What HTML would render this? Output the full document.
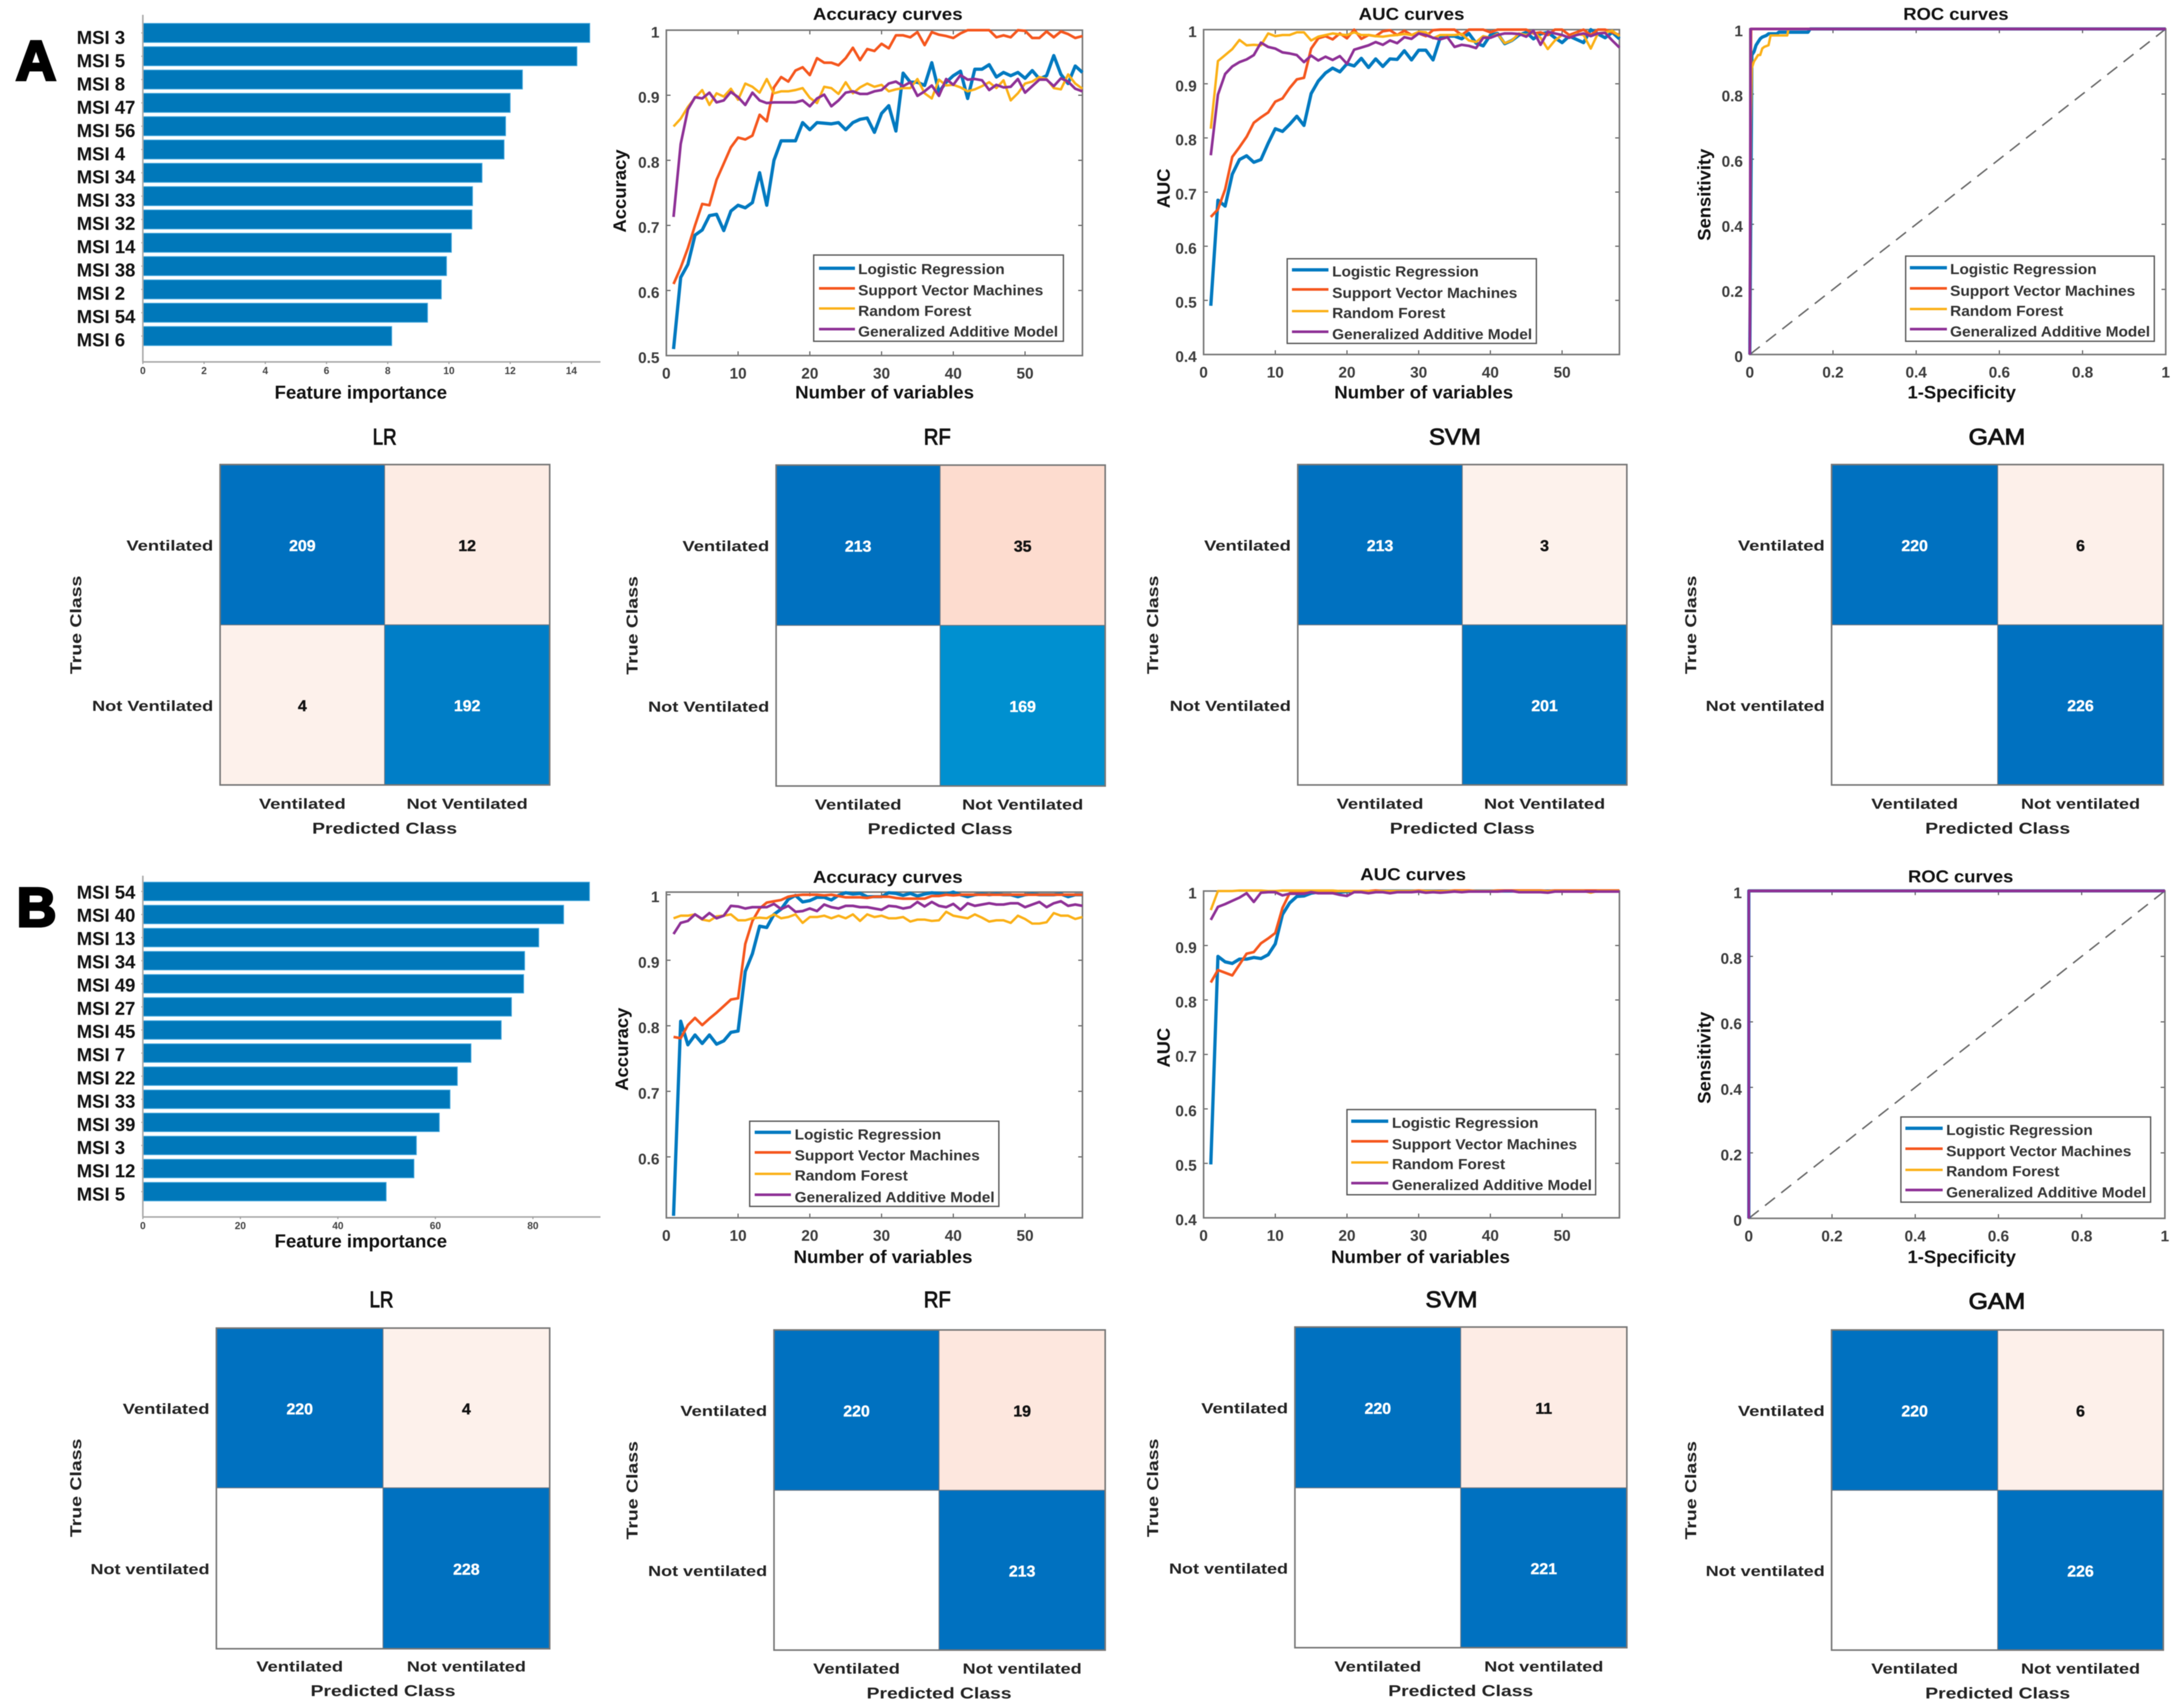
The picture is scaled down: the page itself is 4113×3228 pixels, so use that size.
<!DOCTYPE html>
<html lang="en">
<head>
<meta charset="utf-8">
<title>Ventilation model performance figure</title>
<style>
html,body{margin:0;padding:0;background:#fff;width:4113px;height:3228px;overflow:hidden}
svg{display:block;filter:blur(0.9px)}
text{font-family:"Liberation Sans",sans-serif}
</style>
</head>
<body>
<svg id="figure" xmlns="http://www.w3.org/2000/svg" width="4113" height="3228" viewBox="0 0 4113 3228">
<rect width="4113" height="3228" fill="#fff"/>
</svg>
<script>
// ---------- Feature importance ----------
const barALabels = ['MSI 3','MSI 5','MSI 8','MSI 47','MSI 56','MSI 4','MSI 34','MSI 33','MSI 32','MSI 14','MSI 38','MSI 2','MSI 54','MSI 6'];
const barAValues = [14.6,14.18,12.4,12,11.85,11.8,11.08,10.77,10.75,10.08,9.92,9.75,9.3,8.13];
const barATicks = [0,2,4,6,8,10,12,14];
const barBLabels = ['MSI 54','MSI 40','MSI 13','MSI 34','MSI 49','MSI 27','MSI 45','MSI 7','MSI 22','MSI 33','MSI 39','MSI 3','MSI 12','MSI 5'];
const barBValues = [91.6,86.3,81.2,78.3,78.1,75.6,73.5,67.3,64.5,63,60.8,56.1,55.6,49.9];
const barBTicks = [0,20,40,60,80];

// ---------- Curves (one value per number of variables, 1..58) ----------
const accALr = [.51,.62,.64,.685,.693,.715,.717,.692,.722,.731,.727,.735,.781,.731,.80,.83,.83,.83,.858,.847,.858,.857,.856,.858,.847,.858,.863,.865,.843,.872,.884,.845,.934,.92,.92,.915,.95,.905,.92,.93,.937,.895,.94,.94,.947,.928,.935,.93,.935,.926,.938,.925,.93,.961,.932,.918,.945,.935];
const accASvm = [.61,.635,.665,.70,.733,.731,.77,.795,.82,.835,.832,.838,.87,.86,.912,.928,.921,.938,.943,.931,.957,.95,.95,.946,.957,.973,.954,.971,.968,.979,.972,.992,.992,.989,.997,.977,.997,.993,.991,.988,.995,1,1,1,1,.989,.992,.989,1,.999,.988,.988,.998,.989,.998,.994,.988,.991];
const accARf = [.852,.864,.882,.896,.908,.885,.903,.898,.91,.893,.918,.913,.904,.925,.903,.906,.906,.908,.911,.896,.888,.913,.911,.902,.92,.903,.912,.918,.913,.916,.906,.909,.911,.911,.925,.903,.895,.924,.915,.916,.912,.906,.909,.914,.92,.911,.923,.892,.903,.918,.921,.928,.925,.911,.909,.932,.918,.91];
const accAGam = [.713,.825,.878,.897,.895,.904,.889,.892,.905,.897,.885,.904,.892,.888,.889,.889,.889,.889,.892,.883,.895,.901,.883,.892,.904,.906,.902,.902,.906,.908,.918,.921,.914,.92,.899,.906,.915,.899,.925,.916,.931,.924,.925,.923,.908,.916,.912,.913,.925,.904,.914,.924,.924,.914,.926,.921,.91,.906];

const aucALr = [.49,.685,.674,.733,.76,.767,.755,.76,.79,.817,.812,.825,.84,.823,.882,.905,.92,.929,.922,.937,.933,.947,.93,.946,.932,.946,.945,.961,.944,.962,.962,.944,.985,.988,.988,.983,.993,.975,.97,.99,.993,.974,.98,.99,.995,.983,.992,.995,.985,.976,.988,.982,.976,1,.992,.985,.995,.983];
const aucASvm = [.654,.668,.705,.765,.783,.802,.828,.838,.847,.867,.873,.892,.908,.911,.965,.984,.988,.982,.993,.984,1,.983,.99,.988,.997,.999,.99,.998,.99,.993,.988,.999,1,1,1,.99,1,1,1,.995,1,1,1,1,1,.993,.995,.99,1,1,.99,.995,1,.99,1,1,.995,.99];
const aucARf = [.817,.942,.953,.964,.981,.971,.972,.971,.993,.988,.99,.99,.995,.995,.98,.987,.99,.993,.991,.99,.995,.99,.99,.988,.987,.989,.99,.992,.99,.996,.995,.984,.99,.99,.99,.992,.98,.977,.988,.985,.992,.975,.98,.993,.99,.995,.985,.964,.98,.99,.985,.992,.99,.965,.993,.995,.998,.988];
const aucAGam = [.768,.88,.918,.932,.94,.945,.953,.976,.968,.965,.958,.956,.953,.94,.952,.943,.95,.944,.951,.937,.963,.967,.971,.977,.972,.98,.975,.986,.983,.993,.99,.985,.982,.986,.968,.972,.97,.966,.985,.985,.99,.993,.993,.992,.987,.998,.972,.996,.993,.99,.985,.99,.993,.988,.993,.994,.98,.967];

const accBLr = [.51,.807,.771,.786,.773,.786,.772,.777,.79,.792,.883,.91,.952,.95,.97,.978,.993,.999,.989,.991,.996,.996,.992,.999,1.003,1.001,1.002,.997,.997,.997,1.003,1.002,.999,1.002,.998,1.001,1.003,1.002,1.001,1.004,1,.997,1,1.001,1,1.001,1,1,.997,1,1.001,1,1,1,1.001,.997,1,1];
const accBSvm = [.783,.781,.801,.812,.801,.811,.82,.83,.84,.842,.925,.96,.979,.988,.99,.992,.997,.999,1,1,1,.999,1,.998,.996,.996,.996,.995,.997,.997,.997,.995,.994,.994,.994,.994,.998,.998,1,.999,1,1,1,1,1,1,1,1,1,1,1,1,1,1,1,1,1,1];
const accBRf = [.964,.968,.968,.97,.962,.96,.967,.968,.97,.961,.961,.964,.965,.964,.97,.964,.966,.97,.957,.966,.966,.968,.964,.968,.964,.97,.96,.97,.966,.968,.964,.964,.966,.959,.962,.962,.96,.961,.974,.968,.966,.964,.97,.965,.959,.961,.961,.957,.968,.963,.956,.956,.958,.972,.968,.968,.963,.966];
const accBGam = [.94,.957,.96,.97,.963,.972,.964,.968,.983,.982,.979,.981,.981,.981,.986,.978,.983,.974,.975,.979,.975,.985,.981,.979,.983,.983,.981,.981,.979,.977,.983,.982,.979,.981,.989,.982,.989,.983,.981,.986,.977,.987,.983,.985,.987,.985,.985,.987,.987,.981,.985,.989,.981,.987,.99,.983,.985,.983];

const aucBLr = [.498,.88,.87,.867,.875,.875,.878,.876,.883,.903,.957,.978,.99,.991,.996,.998,.998,.998,.998,.999,.999,.999,.999,1,1,1,1,1,1,1,1,1,1,1,1,1,1,1,1,1,1,1,1,1,1,1,1,1,1,1,1,1,1,1,1,1,1,1];
const aucBSvm = [.832,.855,.85,.845,.865,.885,.888,.904,.913,.923,.969,.996,.997,.998,1,1,1,1,1,1,1,1,1,1.001,1,1,1,1,1,1.001,1,1,1,1,1.001,1.001,1.001,1,1,1,1.001,1.001,1.001,1.001,1.001,1.001,1.001,1,1.001,1.001,1.001,1.001,1.001,1.001,1.001,1.001,1.001,1.001];
const aucBRf = [.965,1,1,1,1.001,1.001,1.001,1.001,1,1,1.001,1.001,1.001,1.001,1.001,1.001,1.001,1.001,1,1,1,1,1,.999,1,1,1,1,1,1,1,1,.999,1,1,1,1,1,1,1,1,1,1,1,1,1,1,.999,1,1,1,1,1,.997,1,1,1,1];
const aucBGam = [.947,.971,.976,.982,.988,.996,.98,.997,.998,.998,.992,.995,.995,.995,.998,.996,.996,.996,.993,.991,.998,.998,.996,.998,.998,.996,.998,.998,.998,.999,.997,.998,.997,.998,.999,.998,.999,.999,.999,.999,.999,1,1,.998,.998,.998,.998,.997,.999,.999,.999,.999,.999,.999,.999,.999,.999,.999];

// ---------- ROC curves ----------
const rocALrX = [0,.005,.01,.015,.02,.025,.03,.04,.045,.065,.07,.14,.145,1];
const rocALrY = [0,.92,.93,.95,.96,.97,.975,.98,.985,.985,.99,.99,1,1];
const rocASvmX = [0,.003,1];
const rocASvmY = [0,1,1];
const rocARfX = [0,.002,.005,.01,.015,.02,.025,.03,.035,.045,.05,.09,.093,1];
const rocARfY = [0,.7,.88,.9,.91,.92,.92,.94,.945,.95,.98,.98,1,1];
const rocAGamX = [0,.002,1];
const rocAGamY = [0,1,1];
const rocBX = [0,0,1];
const rocBY = [0,1,1];
const diagonalX = [0,1];
const diagonalY = [0,1];

// ---------- Axis ticks & legend ----------
const varTicks = [0,10,20,30,40,50];
const accATicks = [.5,.6,.7,.8,.9,1];
const accBTicks = [.6,.7,.8,.9,1];
const aucTicks = [.4,.5,.6,.7,.8,.9,1];
const rocTicks = [0,.2,.4,.6,.8,1];
const legendLabels = ['Logistic Regression','Support Vector Machines','Random Forest','Generalized Additive Model'];
const legendWidths = [277,350,214,378];
const seriesColors = ['#0079c0','#f5561d','#fbb016','#8e3096'];
const seriesWidths = [6.2,5,4.6,5];

// ---------- Confusion matrices [TP, FP-cell, FN-cell, TN] ----------
const cmALr = [209,12,4,192];
const cmARf = [213,35,null,169];
const cmASvm = [213,3,null,201];
const cmAGam = [220,6,null,226];
const cmBLr = [220,4,null,228];
const cmBRf = [220,19,null,213];
const cmBSvm = [220,11,null,221];
const cmBGam = [220,6,null,226];

const NS = 'http://www.w3.org/2000/svg';
const root = document.getElementById('figure');
let clipCount = 0;

function make(parent, tag, name, attrs) {
  const el = document.createElementNS(NS, tag);
  for (const k in attrs) el.setAttribute(k, attrs[k]);
  
  
  parent.appendChild(el);
  return el;
}
function label(parent, name, str, x, cy, size, opt) {
  opt = opt || {};
  const a = {'font-size': size, 'font-weight': opt.weight || 'bold', fill: opt.fill || '#1a1a1a', 'text-anchor': opt.anchor || 'middle'};
  if (opt.rotate) {
    a.x = x + size * 0.36; a.y = cy;
    a.transform = 'rotate(-90 ' + (x + size * 0.36) + ' ' + cy + ')';
  } else {
    a.x = x; a.y = cy + size * 0.36;
  }
  if (opt.width) { a.textLength = opt.width; a.lengthAdjust = 'spacingAndGlyphs'; }
  const el = make(parent, 'text', name, a);
  el.textContent = str;
  return el;
}
function tickStr(v) { return (Math.round(v * 10) / 10).toString(); }

function barChart(cfg, labels, values, ticks) {
  const g = make(root, 'g', cfg.name, {});
  const sx = v => cfg.x0 + v * cfg.unit;
  values.forEach((v, i) => {
    const cy = cfg.first + i * cfg.step;
    make(g, 'rect', 'importance-bar', {x: cfg.x0, y: cy - cfg.h / 2, width: sx(v) - cfg.x0, height: cfg.h, fill: '#0078ba', stroke: '#43a6dc', 'stroke-width': 1.5});
    make(g, 'line', 'y-tick', {x1: cfg.x0 - 3, x2: cfg.x0, y1: cy, y2: cy, stroke: '#999', 'stroke-width': 2});
    label(g, 'feature-label', labels[i], 145, cy + cfg.labelOffset + i * cfg.labelDrift, 35, {anchor: 'start', fill: '#111'});
  });
  make(g, 'line', 'y-axis-line', {x1: cfg.x0, x2: cfg.x0, y1: cfg.top, y2: cfg.bottom, stroke: '#aaa', 'stroke-width': 3});
  make(g, 'line', 'x-axis-line', {x1: cfg.x0, x2: cfg.right, y1: cfg.bottom, y2: cfg.bottom, stroke: '#aaa', 'stroke-width': 3});
  ticks.forEach(t => {
    make(g, 'line', 'x-tick', {x1: sx(t), x2: sx(t), y1: cfg.bottom, y2: cfg.bottom + 4, stroke: '#999', 'stroke-width': 2});
    label(g, 'x-tick-label', String(t), sx(t), cfg.bottom + 16, 19, {fill: '#444'});
  });
  label(g, 'x-axis-title', 'Feature importance', 682, cfg.titleY, 35, {width: 326, fill: '#111'});
}

function legend(g, cfg) {
  const box = make(g, 'g', 'legend', {});
  make(box, 'rect', 'legend-box', {x: cfg.x, y: cfg.y, width: cfg.w, height: cfg.h, fill: '#fff', stroke: '#555', 'stroke-width': 2.5});
  legendLabels.forEach((txt, i) => {
    make(box, 'line', 'legend-swatch', {x1: cfg.s0, x2: cfg.s1, y1: cfg.lines[i], y2: cfg.lines[i], stroke: seriesColors[i], 'stroke-width': seriesWidths[i]});
    label(box, 'legend-entry', txt, cfg.tx, cfg.texts[i], 27.5, {anchor: 'start', width: legendWidths[i], fill: '#333'});
  });
}

function linePanel(cfg, series) {
  const g = make(root, 'g', cfg.name, {});
  const sx = v => cfg.l + (v - cfg.xMin) / (cfg.xMax - cfg.xMin) * (cfg.r - cfg.l);
  const sy = v => cfg.b - (v - cfg.yMin) / (cfg.yMax - cfg.yMin) * (cfg.b - cfg.t);
  make(g, 'rect', 'plot-area', {x: cfg.l, y: cfg.t, width: cfg.r - cfg.l, height: cfg.b - cfg.t, fill: '#fff'});
  cfg.xTicks.forEach(t => {
    make(g, 'line', 'x-tick', {x1: sx(t), x2: sx(t), y1: cfg.b, y2: cfg.b - 8, stroke: '#555', 'stroke-width': 2});
    make(g, 'line', 'x-tick-top', {x1: sx(t), x2: sx(t), y1: cfg.t, y2: cfg.t + 8, stroke: '#555', 'stroke-width': 2});
    label(g, 'x-tick-label', tickStr(t), sx(t), cfg.b + 33, 29, {fill: '#3c3c3c'});
  });
  cfg.yTicks.forEach(t => {
    make(g, 'line', 'y-tick', {x1: cfg.l, x2: cfg.l + 8, y1: sy(t), y2: sy(t), stroke: '#555', 'stroke-width': 2});
    make(g, 'line', 'y-tick-right', {x1: cfg.r, x2: cfg.r - 8, y1: sy(t), y2: sy(t), stroke: '#555', 'stroke-width': 2});
    label(g, 'y-tick-label', tickStr(t), cfg.l - 13, sy(t) + 3.5, 29, {anchor: 'end', fill: '#3c3c3c'});
  });
  make(g, 'rect', 'plot-frame', {x: cfg.l, y: cfg.t, width: cfg.r - cfg.l, height: cfg.b - cfg.t, fill: 'none', stroke: '#777', 'stroke-width': 3});
  clipCount += 1;
  const clipId = 'plot-clip-' + clipCount;
  const clip = make(g, 'clipPath', 'plot-clip', {id: clipId});
  make(clip, 'rect', 'plot-clip-rect', {x: cfg.l - 3, y: cfg.t - 4, width: cfg.r - cfg.l + 6, height: cfg.b - cfg.t + 8});
  const lines = make(g, 'g', 'series-lines', {'clip-path': 'url(#' + clipId + ')'});
  if (cfg.diagonal) {
    const dp = diagonalX.map((x, i) => sx(x) + ',' + sy(diagonalY[i])).join(' ');
    make(lines, 'polyline', 'chance-diagonal', {points: dp, fill: 'none', stroke: '#666', 'stroke-width': 2.8, 'stroke-dasharray': '24 15'});
  }
  series.forEach((s, idx) => {
    const pts = s.y.map((v, i) => sx(s.x ? s.x[i] : i + 1).toFixed(1) + ',' + sy(v).toFixed(1)).join(' ');
    make(lines, 'polyline', 'curve-' + legendLabels[idx].toLowerCase().replace(/ /g, '-'), {points: pts, fill: 'none', stroke: seriesColors[idx], 'stroke-width': seriesWidths[idx], 'stroke-linejoin': 'round'});
  });
  label(g, 'chart-title', cfg.title, cfg.titleX, cfg.titleY, 32, {width: cfg.titleW, fill: '#111'});
  label(g, 'x-axis-title', cfg.xTitle, cfg.xTitleX, cfg.xTitleY, 34, {width: cfg.xTitleW, fill: '#111'});
  label(g, 'y-axis-title', cfg.yTitle, cfg.yTitleX, cfg.yTitleY, 34, {rotate: true, width: cfg.yTitleW, fill: '#111'});
  legend(g, cfg.legend);
}

function mix(a, b, t) {
  t = Math.max(0, Math.min(1, t));
  return 'rgb(' + a.map((c, i) => Math.round(c + (b[i] - c) * t)).join(',') + ')';
}
function cellColor(v) {
  if (v === null) return '#ffffff';
  if (v >= 100) return mix([0, 144, 208], [0, 113, 192], (v - 169) / 40);
  return mix([253, 244, 239], [253, 220, 207], v / 35);
}
function matrix(cfg, values) {
  const g = make(root, 'g', cfg.name, {});
  const xs = [cfg.l, cfg.m], ws = [cfg.m - cfg.l, cfg.r - cfg.m];
  const ys = [cfg.t, cfg.c], hs = [cfg.c - cfg.t, cfg.b - cfg.c];
  values.forEach((v, i) => {
    const col = i % 2, row = Math.floor(i / 2);
    make(g, 'rect', 'matrix-cell', {x: xs[col], y: ys[row], width: ws[col], height: hs[row], fill: cellColor(v), stroke: '#6b7480', 'stroke-width': 1.5});
    if (v !== null) {
      const num = label(g, 'cell-value', String(v), xs[col] + ws[col] / 2, ys[row] + hs[row] / 2 + 1, 30, {fill: v >= 100 ? '#fff' : '#111'});
      num.setAttribute('stroke', v >= 100 ? '#fff' : '#111');
      num.setAttribute('stroke-width', '0.6');
    }
  });
  make(g, 'rect', 'matrix-frame', {x: cfg.l, y: cfg.t, width: cfg.r - cfg.l, height: cfg.b - cfg.t, fill: 'none', stroke: '#777', 'stroke-width': 3});
  const notText = cfg.caps ? 'Not Ventilated' : 'Not ventilated';
  const notWidth = cfg.caps ? 229 : 225;
  label(g, 'y-class-label', 'Ventilated', cfg.l - 13, (cfg.t + cfg.c) / 2 + 1, 28, {anchor: 'end', width: 164, fill: '#222'});
  label(g, 'y-class-label', notText, cfg.l - 13, (cfg.c + cfg.b) / 2 + 1, 28, {anchor: 'end', width: notWidth, fill: '#222'});
  label(g, 'x-class-label', 'Ventilated', (cfg.l + cfg.m) / 2, cfg.tickY, 28, {width: 164, fill: '#222'});
  label(g, 'x-class-label', notText, (cfg.m + cfg.r) / 2, cfg.tickY, 28, {width: notWidth, fill: '#222'});
  label(g, 'x-axis-title', 'Predicted Class', cfg.m, cfg.predY, 30, {width: 274, fill: '#222'});
  label(g, 'y-axis-title', 'True Class', cfg.trueX, cfg.c, 30, {rotate: true, width: 186, fill: '#222'});
  const head = label(g, 'matrix-title', cfg.title, cfg.titleX, cfg.titleY, 43, {weight: 'normal', width: cfg.titleW, fill: '#111'});
  head.setAttribute('stroke', '#111');
  head.setAttribute('stroke-width', '1.6');
}

// ---------- Panel letters ----------
const letterA = label(root, 'panel-letter-a', 'A', 68, 113, 106, {fill: '#000'});
letterA.setAttribute('stroke', '#000');
letterA.setAttribute('stroke-width', '5');
const letterB = label(root, 'panel-letter-b', 'B', 69, 1713, 104, {fill: '#000'});
letterB.setAttribute('stroke', '#000');
letterB.setAttribute('stroke-width', '5');

// ---------- Row A ----------
barChart({name: 'feature-importance-a', x0: 270, unit: 57.86, right: 1135, top: 28, bottom: 684, first: 62.2, step: 44.07, h: 36, titleY: 741, labelOffset: 8, labelDrift: -0.08}, barALabels, barAValues, barATicks);

linePanel({name: 'accuracy-curves-a', l: 1259.5, r: 2046, t: 57, b: 672, xMin: 0, xMax: 58, yMin: .5, yMax: 1, xTicks: varTicks, yTicks: accATicks,
  title: 'Accuracy curves', titleX: 1678, titleY: 26, titleW: 283, xTitle: 'Number of variables', xTitleX: 1672, xTitleY: 741, xTitleW: 338,
  yTitle: 'Accuracy', yTitleX: 1171, yTitleY: 361, yTitleW: 157,
  legend: {x: 1538, y: 482, w: 472, h: 163, s0: 1548, s1: 1616, tx: 1622, lines: [507, 545, 583, 622], texts: [508, 548, 587, 626]}},
  [{y: accALr}, {y: accASvm}, {y: accARf}, {y: accAGam}]);

linePanel({name: 'auc-curves-a', l: 2275, r: 3061, t: 56, b: 670, xMin: 0, xMax: 58, yMin: .4, yMax: 1, xTicks: varTicks, yTicks: aucTicks,
  title: 'AUC curves', titleX: 2668, titleY: 26, titleW: 200, xTitle: 'Number of variables', xTitleX: 2691, xTitleY: 741, xTitleW: 338,
  yTitle: 'AUC', yTitleX: 2199, yTitleY: 356, yTitleW: 75,
  legend: {x: 2433, y: 489, w: 471, h: 160, s0: 2442, s1: 2511, tx: 2518, lines: [510, 547, 588, 627], texts: [512.5, 553, 591, 631]}},
  [{y: aucALr}, {y: aucASvm}, {y: aucARf}, {y: aucAGam}]);

linePanel({name: 'roc-curves-a', l: 3307.4, r: 4093.6, t: 54.7, b: 670, xMin: 0, xMax: 1, yMin: 0, yMax: 1, xTicks: rocTicks, yTicks: rocTicks, diagonal: true,
  title: 'ROC curves', titleX: 3697, titleY: 26, titleW: 199, xTitle: '1-Specificity', xTitleX: 3708, xTitleY: 741, xTitleW: 205,
  yTitle: 'Sensitivity', yTitleX: 3221, yTitleY: 368, yTitleW: 174,
  legend: {x: 3602, y: 484, w: 470, h: 161, s0: 3610, s1: 3680, tx: 3686, lines: [506, 545, 584, 622], texts: [508, 549, 587, 626]}},
  [{x: rocALrX, y: rocALrY}, {x: rocASvmX, y: rocASvmY}, {x: rocARfX, y: rocARfY}, {x: rocAGamX, y: rocAGamY}]);

matrix({name: 'confusion-matrix-lr-a', l: 416, m: 727, r: 1039, t: 878, c: 1181, b: 1483.5, caps: true, tickY: 1518.5, predY: 1564.5, trueX: 142.5, title: 'LR', titleX: 727, titleY: 824.5, titleW: 45}, cmALr);
matrix({name: 'confusion-matrix-rf-a', l: 1467, m: 1777, r: 2089, t: 879, c: 1182, b: 1485.5, caps: true, tickY: 1520, predY: 1565.5, trueX: 1194, title: 'RF', titleX: 1771.6, titleY: 824.5, titleW: 51}, cmARf);
matrix({name: 'confusion-matrix-svm-a', l: 2453, m: 2764, r: 3075, t: 878, c: 1181, b: 1483.5, caps: true, tickY: 1518.5, predY: 1564.5, trueX: 2178, title: 'SVM', titleX: 2750, titleY: 824.5, titleW: 98}, cmASvm);
matrix({name: 'confusion-matrix-gam-a', l: 3462, m: 3776, r: 4089, t: 878, c: 1181, b: 1483.5, caps: false, tickY: 1518.5, predY: 1564.5, trueX: 3195, title: 'GAM', titleX: 3774.5, titleY: 824.5, titleW: 107}, cmAGam);

// ---------- Row B ----------
barChart({name: 'feature-importance-b', x0: 270, unit: 9.216, right: 1135, top: 1655, bottom: 2300, first: 1684.7, step: 43.65, h: 35, titleY: 2345, labelOffset: 1, labelDrift: 0.25}, barBLabels, barBValues, barBTicks);

linePanel({name: 'accuracy-curves-b', l: 1259.5, r: 2046, t: 1686, b: 2301.6, xMin: 0, xMax: 58, yMin: .507, yMax: 1.004, xTicks: varTicks, yTicks: accBTicks,
  title: 'Accuracy curves', titleX: 1678, titleY: 1657, titleW: 283, xTitle: 'Number of variables', xTitleX: 1669, xTitleY: 2375, xTitleW: 338,
  yTitle: 'Accuracy', yTitleX: 1175, yTitleY: 1983, yTitleW: 157,
  legend: {x: 1417, y: 2119, w: 471, h: 161, s0: 1426.5, s1: 1495, tx: 1502, lines: [2140, 2178, 2218.5, 2258], texts: [2143.4, 2183, 2221, 2262]}},
  [{y: accBLr}, {y: accBSvm}, {y: accBRf}, {y: accBGam}]);

linePanel({name: 'auc-curves-b', l: 2275, r: 3061, t: 1684, b: 2301.6, xMin: 0, xMax: 58, yMin: .4, yMax: 1, xTicks: varTicks, yTicks: aucTicks,
  title: 'AUC curves', titleX: 2671, titleY: 1652, titleW: 200, xTitle: 'Number of variables', xTitleX: 2685, xTitleY: 2375, xTitleW: 338,
  yTitle: 'AUC', yTitleX: 2199, yTitleY: 1980, yTitleW: 75,
  legend: {x: 2546, y: 2097, w: 470, h: 161, s0: 2554, s1: 2624, tx: 2631, lines: [2119, 2157, 2197, 2236], texts: [2121.5, 2162, 2199.6, 2239]}},
  [{y: aucBLr}, {y: aucBSvm}, {y: aucBRf}, {y: aucBGam}]);

linePanel({name: 'roc-curves-b', l: 3305.5, r: 4092, t: 1683.7, b: 2302.6, xMin: 0, xMax: 1, yMin: 0, yMax: 1, xTicks: rocTicks, yTicks: rocTicks, diagonal: true,
  title: 'ROC curves', titleX: 3706, titleY: 1656, titleW: 199, xTitle: '1-Specificity', xTitleX: 3708, xTitleY: 2375, xTitleW: 205,
  yTitle: 'Sensitivity', yTitleX: 3221, yTitleY: 1999, yTitleW: 174,
  legend: {x: 3593, y: 2111, w: 472, h: 161, s0: 3601.5, s1: 3672, tx: 3678.6, lines: [2132.4, 2171, 2211, 2249], texts: [2135, 2175, 2213, 2253]}},
  [{x: rocBX, y: rocBY}, {x: rocBX, y: rocBY}, {x: rocBX, y: rocBY}, {x: rocBX, y: rocBY}]);

matrix({name: 'confusion-matrix-lr-b', l: 409, m: 724, r: 1039, t: 2510, c: 2812, b: 3116, caps: false, tickY: 3149, predY: 3194.6, trueX: 142.5, title: 'LR', titleX: 721, titleY: 2455, titleW: 45}, cmBLr);
matrix({name: 'confusion-matrix-rf-b', l: 1463, m: 1775, r: 2089, t: 2513.5, c: 2816.6, b: 3118.6, caps: false, tickY: 3153, predY: 3199, trueX: 1194, title: 'RF', titleX: 1771.6, titleY: 2455, titleW: 51}, cmBRf);
matrix({name: 'confusion-matrix-svm-b', l: 2447.6, m: 2761, r: 3075, t: 2508, c: 2812, b: 3114, caps: false, tickY: 3149, predY: 3194.6, trueX: 2178, title: 'SVM', titleX: 2743.5, titleY: 2455, titleW: 98}, cmBSvm);
matrix({name: 'confusion-matrix-gam-b', l: 3462, m: 3776, r: 4089, t: 2513.5, c: 2816.6, b: 3118.6, caps: false, tickY: 3153, predY: 3199, trueX: 3195, title: 'GAM', titleX: 3774.5, titleY: 2458, titleW: 107}, cmBGam);
</script>
</body>
</html>
